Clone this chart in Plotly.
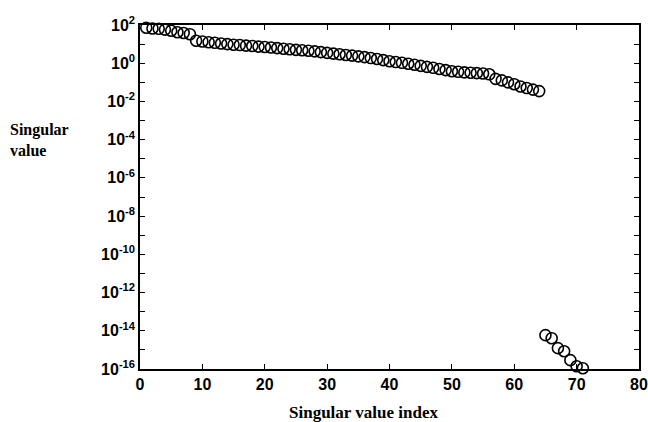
import plotly.graph_objects as go

index = list(range(1, 72))
singular_values = [
    72.4, 66.1, 63.1, 57.5, 50.1, 41.7, 38.0, 33.1, 15.1, 13.8,
    12.6, 11.7, 10.7, 10.0, 9.33, 8.91, 8.32, 7.94, 7.41, 7.08,
    6.61, 6.17, 5.75, 5.37, 5.01, 4.79, 4.47, 4.17, 3.80, 3.47,
    3.16, 2.95, 2.69, 2.51, 2.29, 2.09, 1.86, 1.66, 1.45, 1.26,
    1.15, 1.05, 0.933, 0.832, 0.724, 0.646, 0.575, 0.501, 0.437, 0.380,
    0.355, 0.331, 0.316, 0.302, 0.288, 0.263, 0.151, 0.126, 0.100, 0.0794,
    0.0603, 0.0501, 0.0417, 0.0347,
    5.9e-15, 4.1e-15, 1.23e-15, 8.5e-16, 2.9e-16, 1.4e-16, 1.1e-16,
]

x_ticks = [0, 10, 20, 30, 40, 50, 60, 70, 80]
y_exponents = list(range(-16, 3))
y_tickvals = [10.0 ** e for e in y_exponents]
y_ticktext = [f"<b>10<sup>{e}</sup></b>" if e % 2 == 0 else "" for e in y_exponents]

fig = go.Figure()
fig.add_trace(go.Scatter(
    x=index, y=singular_values, mode="markers",
    marker=dict(symbol="circle-open", size=11, color="black",
                line=dict(width=1.6, color="black")),
    showlegend=False, cliponaxis=False,
))

axis_common = dict(
    showgrid=False, zeroline=False, showline=True, linecolor="black",
    linewidth=1.5, mirror="ticks", ticks="inside", tickcolor="black",
    tickwidth=1.2, ticklen=5, automargin=False,
)

fig.update_xaxes(
    range=[0, 80], tickvals=x_ticks,
    ticktext=[f"<b>{v}</b>" for v in x_ticks],
    tickfont=dict(family="Liberation Sans", size=16, color="black"),
    ticklabeloverflow="allow",
    **axis_common,
)
fig.update_yaxes(
    type="log", range=[-16, 2], tickvals=y_tickvals, ticktext=y_ticktext,
    tickfont=dict(family="Liberation Sans", size=16, color="black"),
    **axis_common,
)

fig.add_annotation(
    text="<b>Singular value index</b>", xref="paper", yref="paper",
    x=0.447, y=-0.125, xanchor="center", yanchor="middle", showarrow=False,
    font=dict(family="Liberation Serif", size=17, color="black"),
)
fig.add_annotation(
    text="<b>Singular<br>value</b>", xref="paper", yref="paper",
    x=-0.264, y=0.665, xanchor="left", yanchor="middle", showarrow=False,
    align="left",
    font=dict(family="Liberation Serif", size=16, color="black"),
)

fig.update_layout(
    width=648, height=422,
    margin=dict(l=140, r=9, t=25, b=53),
    plot_bgcolor="white", paper_bgcolor="white",
)

# Remove the default page margin so the figure fills the window exactly.
fig.write_html(
    "out.html",
    config={"displayModeBar": False},
    post_script="document.body.style.margin='0';",
)
